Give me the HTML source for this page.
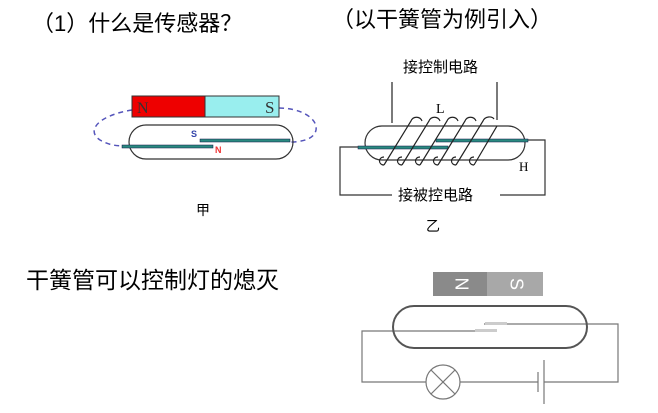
<!DOCTYPE html>
<html><head><meta charset="utf-8"><style>
html,body{margin:0;padding:0;background:#fff;width:658px;height:413px;overflow:hidden}
text{font-family:"Liberation Sans","Noto Sans CJK SC",sans-serif}
text.serif{font-family:"Liberation Serif",serif}
</style></head><body>
<svg width="658" height="413" viewBox="0 0 658 413" xmlns="http://www.w3.org/2000/svg">
<text x="32" y="31" font-size="22" fill="#000">（1）什么是传感器？</text>
<text x="332" y="27" font-size="22" fill="#000">（以干簧管为例引入）</text>
<text x="26" y="288" font-size="23" fill="#000">干簧管可以控制灯的熄灭</text>

<!-- diagram 1 -->
<path d="M132,110 C100,115 85,130 100,140 C110,146 120,146 126,146" fill="none" stroke="#5555bb" stroke-width="1.5" stroke-dasharray="5,4"/>
<path d="M279,108 C300,108 318,118 316,130 C314,140 300,142 290,142" fill="none" stroke="#5555bb" stroke-width="1.5" stroke-dasharray="5,4"/>
<rect x="132" y="96" width="73" height="21" fill="#ee0000" stroke="#333"/>
<rect x="205" y="96" width="74" height="21" fill="#99eeee" stroke="#333"/>
<text class="serif" x="137" y="113" font-size="16" fill="#333">N</text>
<text class="serif" x="265" y="113" font-size="17" fill="#333">S</text>
<rect x="129" y="125" width="164" height="34" rx="17" fill="none" stroke="#333" stroke-width="1.2"/>
<rect x="200" y="139" width="90" height="3" fill="#2a8a80" stroke="#114" stroke-width="0.5"/>
<rect x="122" y="145" width="91" height="3" fill="#2a8a80" stroke="#114" stroke-width="0.5"/>
<text x="191" y="137" font-size="9" fill="#3344aa" font-weight="bold">S</text>
<text x="215" y="153" font-size="9" fill="#ee3333" font-weight="bold">N</text>
<text x="196" y="215" font-size="14" fill="#000">甲</text>

<!-- diagram 2 -->
<text x="403" y="72" font-size="15" fill="#000">接控制电路</text>
<line x1="392" y1="82" x2="392" y2="123" stroke="#333" stroke-width="1.3"/>
<line x1="497" y1="82" x2="497" y2="120" stroke="#333" stroke-width="1.3"/>
<text class="serif" x="436" y="113" font-size="14" fill="#000">L</text>
<rect x="365" y="126" width="160" height="34" rx="17" fill="none" stroke="#333" stroke-width="1.2"/>
<rect x="358" y="146" width="90" height="3" fill="#2a8a80" stroke="#114" stroke-width="0.5"/>
<rect x="436" y="139" width="92" height="3" fill="#2a8a80" stroke="#114" stroke-width="0.5"/>
<g fill="none" stroke="#222" stroke-width="1.2">
<path d="M384,165 C378,165 378,157 384,157"/>
<path d="M384,165 L411,121 C413,116 420,116 422,121"/>
<path d="M402,165 C396,165 396,157 402,157"/>
<path d="M402,165 L429,121 C431,116 438,116 440,121"/>
<path d="M420,165 C414,165 414,157 420,157"/>
<path d="M420,165 L447,121 C449,116 456,116 458,121"/>
<path d="M438,165 C432,165 432,157 438,157"/>
<path d="M438,165 L465,121 C467,116 474,116 476,121"/>
<path d="M456,165 C450,165 450,157 456,157"/>
<path d="M456,165 L483,121 C485,116 492,116 494,119"/>
<path d="M474,165 C468,165 468,157 474,157"/>
<path d="M474,165 L497,126"/>
</g>
<path d="M358,147 H340 V195 H392" fill="none" stroke="#333" stroke-width="1.2"/>
<path d="M528,140 H545 V195 H500" fill="none" stroke="#333" stroke-width="1.2"/>
<text x="398" y="200" font-size="15" fill="#000">接被控电路</text>
<text class="serif" x="519" y="171" font-size="13" fill="#000">H</text>
<text x="426" y="231" font-size="14" fill="#000">乙</text>

<!-- diagram 3 -->
<rect x="433" y="272" width="54" height="24" fill="#8a8a8a"/>
<rect x="487" y="272" width="56" height="24" fill="#a8a8a8"/>
<text x="460" y="284" font-size="18" fill="#fff" text-anchor="middle" dominant-baseline="middle" transform="rotate(90 460 284)">N</text>
<text x="515" y="284" font-size="18" fill="#fff" text-anchor="middle" dominant-baseline="middle" transform="rotate(90 515 284)">S</text>
<g fill="none" stroke="#777" stroke-width="1.2">
<path d="M393,331 H362 V382 H426"/>
<path d="M460,382 H538"/>
<path d="M544,382 H618 V324 H587"/>
<line x1="393" y1="331" x2="497" y2="331"/>
<line x1="484" y1="324" x2="587" y2="324"/>
<circle cx="443" cy="382" r="17"/>
<line x1="431" y1="370" x2="455" y2="394"/>
<line x1="455" y1="370" x2="431" y2="394"/>
<line x1="538" y1="372" x2="538" y2="392"/>
<line x1="544" y1="360" x2="544" y2="404"/>
</g>
<rect x="475" y="329" width="22" height="3" fill="#ccc"/>
<rect x="485" y="322" width="22" height="3" fill="#ccc"/>
<rect x="393" y="306" width="194" height="42" rx="21" fill="none" stroke="#555" stroke-width="2"/>
</svg>
</body></html>
